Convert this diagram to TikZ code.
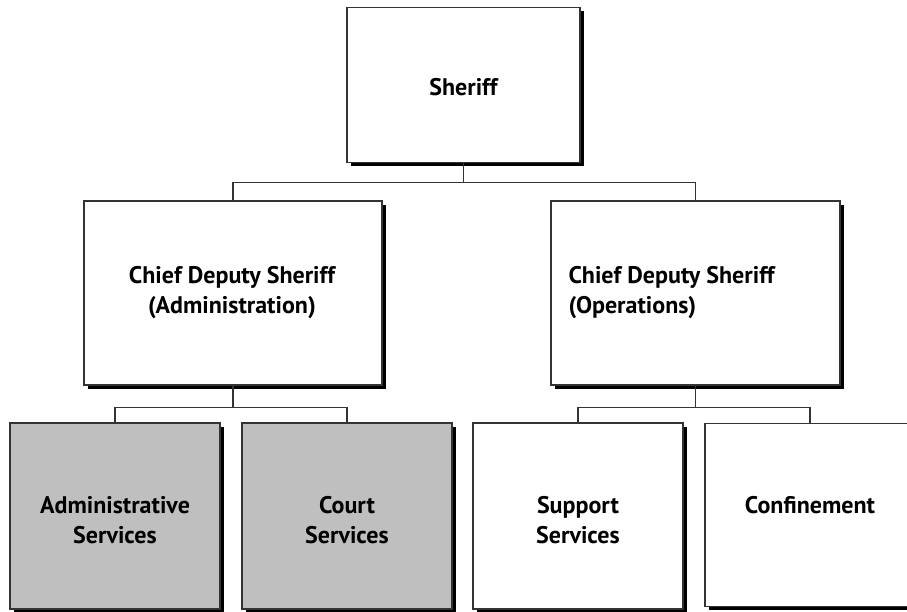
\documentclass[tikz,border=0pt]{standalone}
\usepackage{fontspec}
\setmainfont{PT Sans}
\usetikzlibrary{shadows}
\begin{document}
\begin{tikzpicture}[x=1pt,y=-1pt,font=\bfseries\fontsize{24}{30}\selectfont]
        \tikzset{box/.style={draw=black!80, line width=1.2pt, fill=white, rectangle, inner sep=0pt,
            drop shadow={shadow xshift=3.5pt, shadow yshift=-3.5pt, fill=black, opacity=1}},
          unit/.style={box, minimum width=210pt, minimum height=186pt},
          grayunit/.style={unit, fill=black!25},
          link/.style={draw=black!80, line width=1.2pt}}
        \clip (0,0) rectangle (907,611);
        \node[box, minimum width=233pt, minimum height=155pt] (sheriff) at (463.5,85) {};
        \node[box, minimum width=298pt, minimum height=184pt] (admchief) at (233,293) {};
        \node[box, minimum width=289pt, minimum height=184pt] (opschief) at (695.5,293) {};
        \node[grayunit] (admsvc) at (115,516) {};
        \node[grayunit] (court) at (347,516) {};
        \node[unit] (support) at (578,516) {};
        \node[unit, minimum height=183pt] (confine) at (810,515) {};
        \node (sherifftext) at (463.5,87) {Sheriff};
        \node[align=center] (admtext) at (232,293) {Chief Deputy Sheriff\\(Administration)};
        \node[align=left, anchor=west] (opstext) at (565,293) {Chief Deputy Sheriff\\(Operations)};
        \node[align=center] (admsvctext) at (115,520) {Administrative\\Services};
        \node[align=center] (courttext) at (347,520) {Court\\Services};
        \node[align=center] (supporttext) at (578,520) {Support\\Services};
        \node (confinetext) at (810,505) {Confinement};
        \draw[link] (sheriff.south) -- ++(0,19.5) coordinate (bar1);
        \draw[link] (bar1) -| (admchief.north);
        \draw[link] (bar1) -| (opschief.north);
        \draw[link] (admchief.south) -- ++(0,22) coordinate (bar2);
        \draw[link] (bar2) -| (admsvc.north);
        \draw[link] (bar2) -| (court.north);
        \draw[link] (opschief.south) -- ++(0,22) coordinate (bar3);
        \draw[link] (bar3) -| (support.north);
        \draw[link] (bar3) -| (confine.north);
    \end{tikzpicture}
\end{document}
